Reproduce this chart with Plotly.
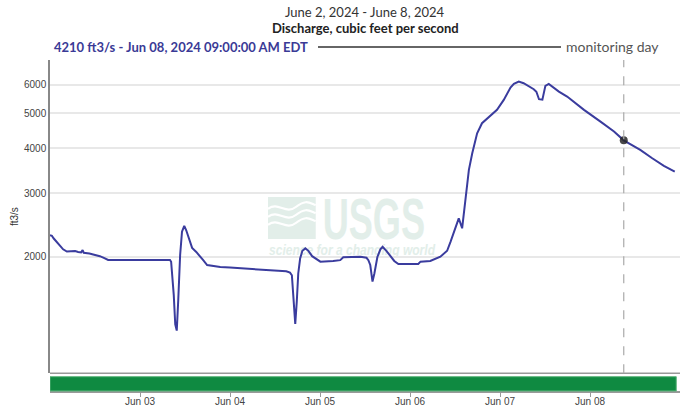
import base64
import plotly.graph_objects as go

# discharge readings (ft3/s)
times = [
    "2024-06-02 00:00", "2024-06-02 00:30", "2024-06-02 01:00", "2024-06-02 01:30",
    "2024-06-02 02:42", "2024-06-02 03:30", "2024-06-02 04:30", "2024-06-02 05:30",
    "2024-06-02 06:42", "2024-06-02 07:30", "2024-06-02 08:18", "2024-06-02 08:42",
    "2024-06-02 09:00", "2024-06-02 10:30", "2024-06-02 12:00", "2024-06-02 13:18",
    "2024-06-02 14:30", "2024-06-02 15:30", "2024-06-02 20:00", "2024-06-03 02:00",
    "2024-06-03 05:00", "2024-06-03 08:00", "2024-06-03 08:18", "2024-06-03 09:00",
    "2024-06-03 09:24", "2024-06-03 09:48", "2024-06-03 10:12", "2024-06-03 10:42",
    "2024-06-03 11:12", "2024-06-03 11:48", "2024-06-03 12:18", "2024-06-03 13:06",
    "2024-06-03 13:54", "2024-06-03 15:00", "2024-06-03 16:00", "2024-06-03 16:48",
    "2024-06-03 17:54", "2024-06-03 21:24", "2024-06-04 00:00", "2024-06-04 04:36",
    "2024-06-04 08:00", "2024-06-04 11:30", "2024-06-04 15:00", "2024-06-04 16:00",
    "2024-06-04 16:30", "2024-06-04 16:54", "2024-06-04 17:24", "2024-06-04 17:48",
    "2024-06-04 18:12", "2024-06-04 18:42", "2024-06-04 19:18", "2024-06-04 20:06",
    "2024-06-04 20:54", "2024-06-04 21:54", "2024-06-04 23:12", "2024-06-05 00:06",
    "2024-06-05 03:30", "2024-06-05 05:24", "2024-06-05 06:12", "2024-06-05 10:48",
    "2024-06-05 12:24", "2024-06-05 12:54", "2024-06-05 13:24", "2024-06-05 14:00",
    "2024-06-05 14:30", "2024-06-05 15:18", "2024-06-05 16:06", "2024-06-05 16:42",
    "2024-06-05 17:42", "2024-06-05 18:48", "2024-06-05 19:48", "2024-06-05 20:54",
    "2024-06-06 02:12", "2024-06-06 02:48", "2024-06-06 05:24", "2024-06-06 08:06",
    "2024-06-06 09:54", "2024-06-06 10:48", "2024-06-06 12:06", "2024-06-06 13:00",
    "2024-06-06 13:54", "2024-06-06 14:48", "2024-06-06 15:42", "2024-06-06 16:36",
    "2024-06-06 17:54", "2024-06-06 19:12", "2024-06-06 21:30", "2024-06-06 23:12",
    "2024-06-07 01:00", "2024-06-07 02:48", "2024-06-07 03:42", "2024-06-07 05:00",
    "2024-06-07 06:18", "2024-06-07 09:00", "2024-06-07 09:42", "2024-06-07 10:24",
    "2024-06-07 11:18", "2024-06-07 12:06", "2024-06-07 13:00", "2024-06-07 15:42",
    "2024-06-07 17:54", "2024-06-07 22:24", "2024-06-08 02:48", "2024-06-08 06:24",
    "2024-06-08 09:00", "2024-06-08 13:24", "2024-06-08 16:36", "2024-06-08 19:42",
    "2024-06-08 22:36",
]
discharge = [
    2300, 2290, 2250, 2220,
    2140, 2100, 2070, 2075,
    2077, 2065, 2060, 2090,
    2055, 2045, 2026, 2010,
    1985, 1962, 1962, 1962,
    1962, 1962, 1940, 1570,
    1300, 1250, 1520, 2025,
    2350, 2440, 2375, 2230,
    2120, 2065, 2013, 1962,
    1900, 1877, 1870, 1858,
    1850, 1840, 1825, 1810,
    1780, 1550, 1304, 1500,
    1800, 1980, 2080, 2113,
    2080, 2010, 1962, 1941,
    1950, 1960, 1996, 2004,
    1990, 1960, 1900, 1710,
    1800, 2000, 2100, 2135,
    2080, 2010, 1950, 1912,
    1912, 1941, 1950, 2004,
    2081, 2203, 2402, 2560,
    2402, 2878, 3487, 3879,
    4406, 4697, 4920, 5114,
    5450, 5900, 6036, 6126,
    6062, 5835, 5740, 5474,
    5458, 5961, 6036, 5746,
    5568, 5114, 4745, 4453,
    4210, 3960, 3756, 3577,
    3449,
]

monitor_time = "2024-06-08 09:00"
monitor_value = 4210
y_ticks = [2000, 3000, 4000, 5000, 6000]
x_ticks = ["2024-06-03", "2024-06-04", "2024-06-05", "2024-06-06", "2024-06-07", "2024-06-08"]
x_tick_text = ["Jun 03", "Jun 04", "Jun 05", "Jun 06", "Jun 07", "Jun 08"]

line_col = "#3a3c9e"
mint = "#e2eee9"

# USGS watermark as an svg so it sits under the line
svg = f'''<svg xmlns="http://www.w3.org/2000/svg" width="170" height="62" viewBox="0 0 170 62">
<rect x="0" y="2" width="48" height="42" fill="{mint}"/>
<path d="M0 14 C10 6 18 20 28 12 S42 8 48 10" stroke="white" stroke-width="2.2" fill="none"/>
<path d="M0 22 C10 14 18 28 28 20 S42 16 48 18" stroke="white" stroke-width="2.2" fill="none"/>
<path d="M0 30 C10 22 18 36 28 28 S42 24 48 26" stroke="white" stroke-width="2.2" fill="none"/>
<text x="55" y="44" font-family="Liberation Sans Narrow, Liberation Sans, Arial" font-weight="bold"
 font-size="58" fill="{mint}" textLength="103" lengthAdjust="spacingAndGlyphs">USGS</text>
<text x="1" y="60" font-family="Liberation Sans, Arial" font-style="italic" font-weight="bold"
 font-size="15" fill="{mint}" textLength="167" lengthAdjust="spacingAndGlyphs">science for a changing world</text>
</svg>'''
svg_uri = "data:image/svg+xml;base64," + base64.b64encode(svg.encode()).decode()

fig = go.Figure()

fig.add_trace(go.Scatter(
    x=times, y=discharge, mode="lines",
    line=dict(color=line_col, width=2),
    hoverinfo="x+y", showlegend=False,
))
fig.add_trace(go.Scatter(
    x=[monitor_time], y=[monitor_value], mode="markers",
    marker=dict(color="rgba(40,40,40,0.85)", size=8),
    showlegend=False,
))

# plot area: l=50..680, t=60..392 (figure a bit taller than the window so
# the date labels under the status bar fit)
W0, PW = 50, 630
def px(xp):
    return (xp - W0) / PW
def py(yp):
    return (392 - yp) / 332

fig.update_layout(
    width=681, height=420,
    margin=dict(l=50, r=1, t=60, b=28),
    paper_bgcolor="white", plot_bgcolor="white",
    font=dict(family="Liberation Sans, Arial", size=10, color="#444"),
    xaxis=dict(
        type="date", range=["2024-06-02 00:00", "2024-06-09 00:00"],
        anchor="free", position=0, tickvals=x_ticks, ticktext=x_tick_text,
        showgrid=False, showline=True, linecolor="#999", linewidth=1.5,
        ticks="outside", ticklen=4, tickcolor="#999", showticklabels=True,
        ticklabelstandoff=-4,
        tickfont=dict(size=10, color="#444"), automargin=False,
    ),
    yaxis=dict(
        type="log", domain=[py(373.3), 1],
        range=[2.9786, 3.847],
        tickvals=y_ticks, ticktext=[str(v) for v in y_ticks],
        showgrid=True, gridcolor="#e8e8e8", gridwidth=1.5,
        showline=True, linecolor="#888", linewidth=1.5,
        ticks="", tickfont=dict(size=10, color="#444"),
        title=dict(text="ft3/s", font=dict(size=10, color="#333"), standoff=3),
        zeroline=False, automargin=False,
    ),
    images=[dict(
        source=svg_uri, xref="paper", yref="paper",
        x=px(268), y=py(195), sizex=(437 - 268) / PW, sizey=62 / 332,
        sizing="stretch", xanchor="left", yanchor="top", layer="below",
    )],
    shapes=[
        # bottom line of the main panel
        dict(type="line", xref="paper", yref="paper", x0=0, x1=1,
             y0=py(373.3), y1=py(373.3), line=dict(color="#999", width=1.5)),
        # monitoring day marker
        dict(type="line", xref="x", yref="paper", x0=monitor_time, x1=monitor_time,
             y0=py(373.3), y1=1, line=dict(color="#aaa", width=1.2, dash="dash")),
        # approval status bar
        dict(type="rect", xref="x", yref="paper", x0=times[0], x1="2024-06-08 23:00",
             y0=py(391), y1=py(376.7), fillcolor="#0f8a41",
             line=dict(color="#5db47c", width=1)),
        # legend line for monitoring day
        dict(type="line", xref="paper", yref="paper", x0=px(318), x1=px(561),
             y0=py(47), y1=py(47), line=dict(color="#333", width=1.5)),
    ],
    annotations=[
        dict(text="June 2, 2024 - June 8, 2024", xref="paper", yref="paper",
             x=px(365), y=py(12), xanchor="center", yanchor="middle", showarrow=False,
             font=dict(family="Lato", size=13, color="#333")),
        dict(text="<b>Discharge, cubic feet per second</b>", xref="paper", yref="paper",
             x=px(365), y=py(28), xanchor="center", yanchor="middle", showarrow=False,
             font=dict(family="Lato", size=13, color="#222")),
        dict(text=f"<b>{monitor_value} ft3/s - Jun 08, 2024 09:00:00 AM EDT</b>",
             xref="paper", yref="paper", x=px(52), y=py(47), xanchor="left",
             yanchor="middle", showarrow=False,
             font=dict(family="Lato", size=13, color="#3a3a96")),
        dict(text="monitoring day", xref="paper", yref="paper",
             x=px(564), y=py(47), xanchor="left", yanchor="middle", showarrow=False,
             font=dict(family="Lato", size=14, color="#555")),
    ],
)

fig.write_html("out.html", config={"displayModeBar": False},
               post_script="document.body.style.margin='0';"
                           "document.body.style.overflow='hidden';")
